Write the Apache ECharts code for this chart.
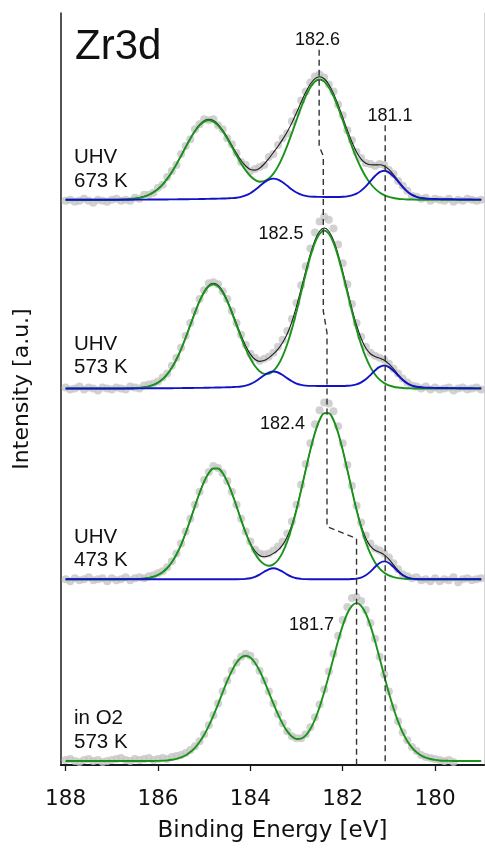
<!DOCTYPE html>
<html>
<head>
<meta charset="utf-8">
<title>Zr3d</title>
<script src="https://cdn.jsdelivr.net/npm/echarts@6/dist/echarts.min.js"></script>
<style>html,body{margin:0;padding:0;background:#fff;}</style>
</head>
<body>
<div id="main" style="width:485px;height:848px;"></div>
<script>
// binding energy grid (eV), 0.1 eV steps
const energies = [
  188.0,187.9,187.8,187.7,187.6,187.5,187.4,187.3,187.2,187.1,
  187.0,186.9,186.8,186.7,186.6,186.5,186.4,186.3,186.2,186.1,
  186.0,185.9,185.8,185.7,185.6,185.5,185.4,185.3,185.2,185.1,
  185.0,184.9,184.8,184.7,184.6,184.5,184.4,184.3,184.2,184.1,
  184.0,183.9,183.8,183.7,183.6,183.5,183.4,183.3,183.2,183.1,
  183.0,182.9,182.8,182.7,182.6,182.5,182.4,182.3,182.2,182.1,
  182.0,181.9,181.8,181.7,181.6,181.5,181.4,181.3,181.2,181.1,
  181.0,180.9,180.8,180.7,180.6,180.5,180.4,180.3,180.2,180.1,
  180.0,179.9,179.8,179.7,179.6,179.5,179.4,179.3,179.2,179.1,
  179.0
];
const xTicks = [188, 186, 184, 182, 180];

// vertical stacking of the four spectra (a.u.)
const offsets = [569, 379, 187, 4];
const sampleNames = [['UHV', '673 K'], ['UHV', '573 K'], ['UHV', '473 K'], ['in O2', '573 K']];

// UHV 673 K
const s1Green = [
  0,0,0,0,0,0,0,0,0,0,
  0,0.1,0.2,0.4,0.7,1.2,1.9,3.1,4.9,7.4,
  10.8,15.3,21.0,27.8,35.6,44.1,52.9,61.4,68.9,74.9,
  78.7,80.0,78.7,74.9,69.0,61.6,53.2,44.7,36.6,29.6,
  23.9,20.0,18.2,18.6,21.3,26.3,33.6,43.2,54.5,67.1,
  80.2,93.0,104.3,113.3,119.0,121.0,119.0,113.3,104.3,92.9,
  80.0,66.7,53.8,42.0,31.7,23.2,16.4,11.2,7.4,4.7,
  2.9,1.8,1.0,0.6,0.3,0.2,0.1,0,0,0,
  0,0,0,0,0,0,0,0,0,0,
  0
];
const s1Blue = [
  0,0,0,0,0,0,0,0,0,0,
  0,0,0,0,0,0.1,0.1,0.1,0.2,0.2,
  0.2,0.3,0.3,0.4,0.4,0.5,0.5,0.6,0.6,0.7,
  0.8,0.9,1.0,1.1,1.2,1.4,1.6,2.0,2.9,4.4,
  6.6,9.8,13.6,17.4,20.2,21.3,20.3,17.6,14.0,10.3,
  7.3,5.2,3.9,3.2,3.0,2.9,2.8,2.8,2.8,2.8,
  3.0,3.4,4.4,6.1,9.2,13.5,18.8,23.9,27.8,29.2,
  27.6,23.6,18.3,12.8,8.2,4.9,3.0,1.8,1.2,0.9,
  0.7,0.6,0.5,0.5,0.4,0.3,0.3,0.2,0.2,0.1,
  0.1
];
const s1Dots = [
  -1,0,-2,-1,1,-1,-3,0,-1,-2,
  0,1,-1,0,-1,2,1,5,5,7,
  12,15,23,29,35,46,54,61,71,76,
  81,80,81,75,71,62,56,47,38,35,
  29,31,33,35,43,46,55,62,67,79,
  88,100,109,118,124,126,123,116,109,96,
  85,70,60,48,42,37,36,34,36,35,
  30,26,19,14,9,4,3,1,2,-1,
  1,0,-1,1,-2,0,-1,1,0,-1,
  0
];

// UHV 573 K
const s2Green = [
  0,0,0,0,0,0,0,0,0,0,
  0,0,0,0.1,0.2,0.3,0.6,1.2,2.1,3.6,
  5.9,9.3,14.2,20.8,29.2,39.4,51.1,63.7,76.2,87.7,
  96.9,102.9,105.0,102.9,96.9,87.7,76.2,63.8,51.3,39.9,
  30.2,22.6,17.3,14.7,14.8,17.7,23.6,32.7,44.8,59.9,
  77.6,96.6,115.4,132.8,146.8,155.8,159.0,155.8,146.8,132.8,
  115.4,96.5,77.4,59.6,44.2,31.5,21.5,14.1,8.9,5.4,
  3.1,1.8,1.0,0.5,0.2,0.1,0,0,0,0,
  0,0,0,0,0,0,0,0,0,0,
  0
];
const s2Blue = [
  0,0,0,0,0,0,0,0,0,0,
  0,0,0,0,0,0.1,0.1,0.1,0.2,0.2,
  0.2,0.3,0.3,0.3,0.4,0.4,0.5,0.5,0.6,0.6,
  0.7,0.8,0.9,1.0,1.1,1.2,1.4,1.6,2.0,2.9,
  4.4,6.8,10.0,13.4,16.0,17.1,16.1,13.6,10.3,7.3,
  5.0,3.7,2.9,2.6,2.6,2.5,2.5,2.5,2.5,2.5,
  2.5,2.7,3.1,4.1,6.1,9.2,13.5,18.2,21.7,23.1,
  21.6,17.9,13.1,8.6,5.2,3.0,1.8,1.2,0.9,0.7,
  0.6,0.5,0.5,0.4,0.4,0.3,0.3,0.2,0.2,0.1,
  0.1
];
const s2Dots = [
  1,-1,0,2,-1,1,0,-2,1,0,
  -1,1,0,-1,2,1,0,3,4,5,
  7,11,15,23,31,41,53,66,78,90,
  99,106,107,105,98,90,78,66,54,44,
  35,31,28,30,32,36,42,49,58,70,
  86,104,123,141,157,168,173,170,161,145,
  126,105,85,66,52,42,36,33,31,29,
  25,20,15,10,6,3,2,0,2,-1,
  1,-1,0,1,-2,0,1,-1,0,1,
  -1
];

// UHV 473 K
const s3Green = [
  0,0,0,0,0,0,0,0,0,0,
  0,0,0,0,0.1,0.2,0.4,0.8,1.4,2.5,
  4.3,7.1,11.3,17.1,24.9,34.7,46.5,59.7,73.5,86.8,
  98.3,106.9,111.4,111.4,106.9,98.3,86.8,73.6,59.8,46.8,
  35.3,26.0,19.2,15.1,13.6,15.0,19.4,27.1,38.1,52.5,
  69.9,89.6,110.2,130.2,147.5,160.3,167.1,167.1,160.3,147.5,
  130.2,110.2,89.5,69.7,52.1,37.3,25.7,16.9,10.7,6.5,
  3.8,2.1,1.1,0.6,0.3,0.1,0,0,0,0,
  0,0,0,0,0,0,0,0,0,0,
  0
];
const s3Blue = [
  0,0,0,0,0,0,0,0,0,0,
  0,0,0,0,0,0,0,0,0,0,
  0,0,0,0,0,0,0,0,0,0,
  0,0,0,0,0,0,0,0,0.1,0.4,
  1.0,2.4,4.7,7.5,10.0,11.0,10.0,7.5,4.7,2.4,
  1.0,0.4,0.1,0,0,0,0,0,0,0,
  0,0,0.2,0.6,1.7,4.0,7.7,12.3,16.4,18.0,
  16.4,12.3,7.7,4.0,1.7,0.6,0.2,0,0,0,
  0,0,0,0,0,0,0,0,0,0,
  0
];
const s3Dots = [
  0,-2,1,-1,0,2,-1,0,1,-2,
  1,-1,0,2,-1,1,2,1,3,4,
  6,8,12,18,26,36,48,61,75,88,
  100,108,114,112,107,99,88,75,61,48,
  38,30,26,25,26,29,33,38,46,58,
  75,95,116,137,156,170,178,177,169,154,
  137,115,94,74,57,44,36,31,29,26,
  22,16,10,5,3,1,2,-1,0,-2,
  1,-2,0,-1,2,-3,0,1,-1,0,
  1
];

// in O2 573 K
const s4Green = [
  0,0,0,0,0,0,0,0,0,0,
  0,0,0,0,0,0,0,0,0,0.1,
  0.2,0.4,0.7,1.3,2.2,3.7,5.8,9.0,13.3,19.1,
  26.4,35.4,45.8,57.1,69.0,80.6,90.8,99.0,104.2,106.0,
  104.2,99.0,90.9,80.8,69.3,57.7,46.9,37.4,29.8,24.6,
  22.1,22.5,25.8,32.3,41.8,54.4,69.4,86.1,103.7,120.9,
  136.3,148.5,156.3,159.0,156.3,148.5,136.3,120.8,103.5,85.7,
  68.7,53.1,39.6,28.6,20.0,13.5,8.8,5.5,3.4,2.0,
  1.1,0.6,0.3,0.2,0,0,0,0,0,0,
  0
];
const s4Dots = [
  1,2,0,-1,1,2,0,1,-1,0,
  1,2,3,1,0,2,1,2,3,1,
  2,3,2,4,5,6,8,11,15,20,
  27,36,46,58,70,81,91,99,105,108,
  106,100,91,81,70,58,47,38,30,25,
  23,23,27,34,44,57,72,90,108,126,
  142,155,164,165,161,152,139,123,105,87,
  70,54,40,29,21,14,10,6,4,3,
  2,1,0,1,-1,null,null,null,null,null,
  null
];

// peak position guides [eV, a.u.]
const guideMain = [[182.51, 720], [182.51, 623], [182.42, 613], [182.42, 457],
  [182.34, 435], [182.34, 240], [181.70, 228], [181.70, 0]];
const guideSub = [[181.08, 644], [181.08, 0]];

const greenSets = [s1Green, s2Green, s3Green, s4Green];
const blueSets = [s1Blue, s2Blue, s3Blue, null];
const dotSets = [s1Dots, s2Dots, s3Dots, s4Dots];

const GREEN = '#199419';
const BLUE = '#1212c8';
const DOT = '#c6c6c6';
const SANS = 'Liberation Sans, Arial, sans-serif';
const AXFONT = 'DejaVu Sans, sans-serif';

function toPts(vals, off) {
  const out = [];
  energies.forEach((e, i) => {
    if (vals[i] != null) out.push([e, off + vals[i]]);
  });
  return out;
}
function lineSeries(data, color, width, z) {
  return {
    type: 'line', data: data, smooth: 0.3, symbol: 'none', z: z,
    lineStyle: { color: color, width: width }, silent: true
  };
}

const series = [];
dotSets.forEach((d, k) => {
  series.push({
    type: 'scatter', data: toPts(d, offsets[k]), symbolSize: 8, z: 1,
    itemStyle: { color: DOT }, silent: true
  });
});
greenSets.forEach((g, k) => {
  const b = blueSets[k];
  if (b) {
    const env = g.map((v, i) => v + b[i]);
    series.push(lineSeries(toPts(env, offsets[k]), '#1e1e1e', 1.1, 2));
  }
  series.push(lineSeries(toPts(g, offsets[k]), GREEN, 1.9, 3));
  if (b) series.push(lineSeries(toPts(b, offsets[k]), BLUE, 1.9, 4));
});
[guideMain, guideSub].forEach(g => {
  series.push({
    type: 'line', data: g, symbol: 'none', z: 5, silent: true,
    lineStyle: { color: '#333', width: 1.4, type: [6, 4] }
  });
});

function txt(s, x, y, size, align) {
  return {
    type: 'text', silent: true,
    style: {
      text: s, x: x, y: y, font: size + 'px ' + SANS, fill: '#111',
      textAlign: align || 'left', textVerticalAlign: 'middle',
      align: align || 'left', verticalAlign: 'middle'
    }
  };
}
const nameY = [[157, 181], [344, 367], [537, 560], [718, 742]];
const graphics = [txt('Zr3d', 75, 47, 42)];
sampleNames.forEach((n, k) => {
  graphics.push(txt(n[0], 74, nameY[k][0], 20.5));
  graphics.push(txt(n[1], 74, nameY[k][1], 20.5));
});
graphics.push(txt('182.6', 317.5, 40, 18, 'center'));
graphics.push(txt('181.1', 390, 116, 18, 'center'));
graphics.push(txt('182.5', 281, 234.5, 18, 'center'));
graphics.push(txt('182.4', 282.5, 424.5, 18, 'center'));
graphics.push(txt('181.7', 311.5, 625, 18, 'center'));

const option = {
  animation: false,
  backgroundColor: '#fff',
  grid: { left: 61, right: 1, top: 13, bottom: 78 },
  xAxis: [{
    type: 'value', inverse: true, min: 178.94, max: 188.1, position: 'bottom',
    axisLine: { lineStyle: { color: '#1a1a1a', width: 1.5 } },
    axisTick: { show: true, length: 6, customValues: xTicks, lineStyle: { color: '#1a1a1a', width: 1.3 } },
    axisLabel: { customValues: xTicks, color: '#111', fontSize: 21.5, fontFamily: AXFONT, margin: 23 },
    splitLine: { show: false },
    name: 'Binding Energy [eV]', nameLocation: 'middle', nameGap: 55,
    nameTextStyle: { color: '#111', fontSize: 23, fontFamily: AXFONT }
  }, {
    type: 'value', inverse: true, min: 178.94, max: 188.1, position: 'top',
    axisLine: { lineStyle: { color: '#1a1a1a', width: 2 } },
    axisTick: { show: false }, axisLabel: { show: false }, splitLine: { show: false }
  }],
  yAxis: [{
    type: 'value', min: 0, max: 757, position: 'left',
    axisLine: { show: true, lineStyle: { color: '#1a1a1a', width: 1.5 } },
    axisTick: { show: false }, axisLabel: { show: false }, splitLine: { show: false },
    name: 'Intensity [a.u.]', nameLocation: 'middle', nameGap: 28,
    nameTextStyle: { color: '#111', fontSize: 22, fontFamily: AXFONT }
  }, {
    type: 'value', min: 0, max: 757, position: 'right',
    axisLine: { show: true, lineStyle: { color: '#d4d4d4', width: 1 } },
    axisTick: { show: false }, axisLabel: { show: false }, splitLine: { show: false }
  }],
  series: series,
  graphic: graphics
};

const chart = echarts.init(document.getElementById('main'), null, { renderer: 'canvas' });
chart.setOption(option);
</script>
</body>
</html>
